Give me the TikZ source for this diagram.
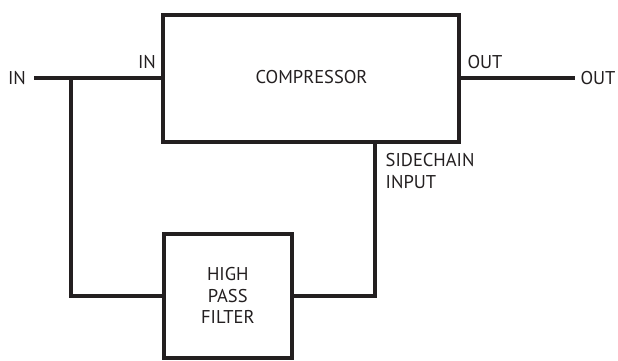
\documentclass[tikz,border=0pt]{standalone}
\usepackage{fontspec}
\setmainfont{PT Sans}
\definecolor{ink}{HTML}{231F20}
\begin{document}
\begin{tikzpicture}[x=1pt,y=-1pt,
  box/.style={draw=ink,line width=4pt,rectangle,outer sep=0pt,inner sep=0pt},
  wire/.style={draw=ink,line width=4pt},
  lbl/.style={text=ink,font=\fontsize{18.5}{21.5}\selectfont,inner sep=0pt}]
\useasboundingbox (0,0) rectangle (618,361);
\node[box,minimum width=296pt,minimum height=127pt] (comp) at (311,78.5) {};
\node[lbl] (comptxt) at (311.5,77) {COMPRESSOR};
\node[box,minimum width=127.5pt,minimum height=124pt] (hpf) at (227.8,296) {};
\node[lbl,align=center] (hpftxt) at (227.8,295.5) {HIGH\\PASS\\FILTER};
\coordinate (inl) at (34,78);
\coordinate (outl) at (575,78);
\coordinate (j) at (71,78);
\coordinate (scx) at (375,0);
\draw[wire] (inl) -- (comp.west |- inl);
\draw[wire] (comp.east |- outl) -- (outl);
\draw[wire] (j) |- (hpf.west);
\draw[wire] (hpf.east) -| (comp.south -| scx);
\node[lbl] (inlab) at (17,78) {IN};
\node[lbl] (outlab) at (598,78) {OUT};
\node[lbl] (inport) at (147,62) {IN};
\node[lbl] (outport) at (485,62) {OUT};
\node[lbl,align=left,anchor=west] (sc) at (385.5,171) {SIDECHAIN\\INPUT};
\end{tikzpicture}
\end{document}
